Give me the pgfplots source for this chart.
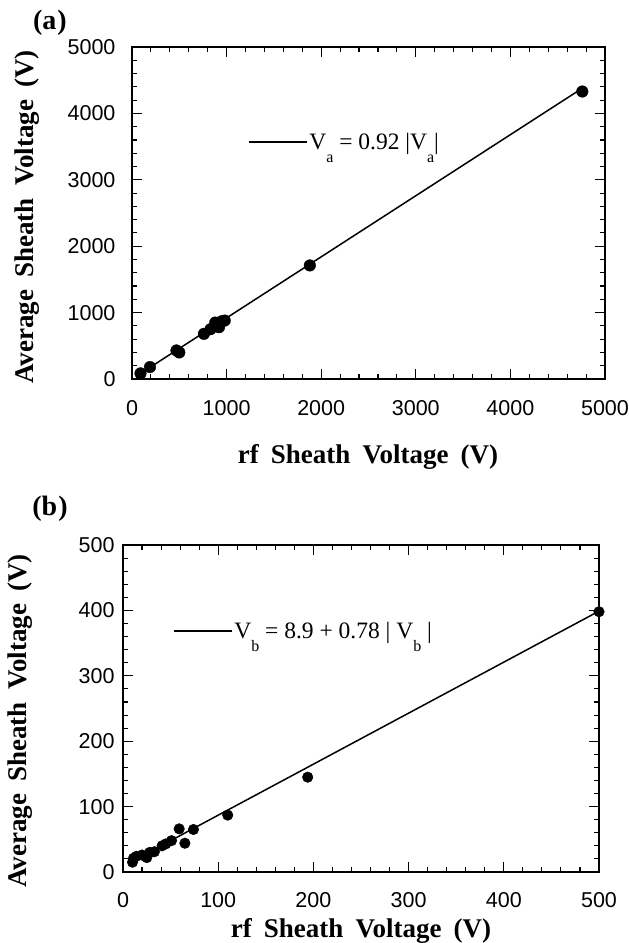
\documentclass[border=0pt]{standalone}
\usepackage{fontspec}
\setmainfont{Liberation Serif}
\setsansfont{Liberation Sans}
\usepackage{pgfplots}
\pgfplotsset{compat=1.18}

\newcommand\ws{\hspace{0.45em}}
\newcommand\lbl{\fontsize{27}{30}\selectfont\bfseries}
\newcommand\sub[1]{\raisebox{-0.55em}{\fontsize{16}{16}\selectfont #1}}

\pgfplotsset{
 myaxis/.style={
  scale only axis,
  axis line style={line width=1.4pt},
  tick style={black, line width=1.1pt},
  major tick length=10pt, minor tick length=5pt,
  minor tick num=4,
  tick label style={font=\fontsize{21.5}{24}\sffamily\selectfont},
  /pgf/number format/assume math mode=true,
  /pgf/number format/1000 sep={},
  label style={font=\lbl},
  legend style={draw=none, fill=none, inner sep=0pt, font=\fontsize{23.5}{26}\selectfont, legend cell align=left},
  legend image code/.code={\draw[#1, line width=1.2pt] (0pt,0pt) -- (58pt,0pt);},
 }
}

\begin{document}
\begin{tikzpicture}
\useasboundingbox (0,0) rectangle (629pt,-943pt);

% ---------- panel (a) ----------
\begin{axis}[myaxis,
  at={(132pt,-379pt)}, anchor=south west,
  width=473pt, height=332pt,
  xmin=0, xmax=5000, ymin=0, ymax=5000,
  xtick={0,1000,...,5000}, ytick={0,1000,...,5000},
  xticklabel style={yshift=-18pt},
  yticklabel style={xshift=-13pt},
  xlabel={rf\ws Sheath\ws Voltage\ws (V)},
  ylabel={Average\ws Sheath\ws Voltage\ws (V)},
  xlabel style={at={(axis description cs:0.499,-0.253)}, anchor=base},
  ylabel style={at={(axis description cs:-0.209,0.488)}, anchor=base},
  legend style={at={(axis cs:1226,3569)}, anchor=west},
]
\addplot[only marks, mark=*, mark size=5.8pt, black, forget plot] table {
x y
90 85
190 180
470 430
500 400
760 680
830 750
880 850
920 780
950 870
980 880
1880 1710
4760 4330
};
\addplot[black, line width=1.5pt] coordinates {(90,82.8) (4760,4379.2)};
\addlegendentry{V\sub{a} = 0.92 |V\sub{a}|}
\end{axis}

% ---------- panel (b) ----------
\begin{axis}[myaxis,
  at={(123pt,-872pt)}, anchor=south west,
  width=476pt, height=327pt,
  xmin=0, xmax=500, ymin=0, ymax=500,
  xtick={0,100,...,500}, ytick={0,100,...,500},
  xticklabel style={yshift=-17pt},
  yticklabel style={xshift=-5pt},
  xlabel={rf\ws Sheath\ws Voltage\ws (V)},
  ylabel={Average\ws Sheath\ws Voltage\ws (V)},
  xlabel style={at={(axis description cs:0.5,-0.199)}, anchor=base},
  ylabel style={at={(axis description cs:-0.202,0.462)}, anchor=base},
  legend style={at={(axis cs:52.5,368.5)}, anchor=west},
]
\addplot[only marks, mark=*, mark size=5.3pt, black, forget plot] table {
x y
10 15
11 21
14 24
20 26
25 22
28 30
33 31
41 40
45 43
51 48
59 66
65 44
74 65
110 87
194 145
500 398
};
\addplot[black, line width=1.5pt] coordinates {(10,16.7) (500,398.9)};
\addlegendentry{V\sub{b} = 8.9 + 0.78 | V\sub{b} |}
\end{axis}

\node[font=\fontsize{28}{30}\selectfont\bfseries] at (50pt,-23pt) {(a\hspace{1pt})};
\node[font=\fontsize{28}{30}\selectfont\bfseries] at (50pt,-509pt) {(b\hspace{1pt})};
\end{tikzpicture}
\end{document}
